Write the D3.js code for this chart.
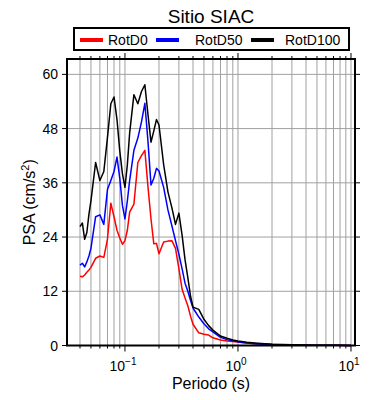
<html>
<script src='https://d3js.org/d3.v7.min.js'></script>
<style>
  body { margin: 0; }
  text { font-family: 'Liberation Sans', Arial, sans-serif; fill: black; }
</style>
<body>
<svg class="chart" width=390 height=400></svg>
<script>

// periods (s) and spectral accelerations (cm/s2)
var periods = [0.040, 0.042, 0.044, 0.046, 0.048, 0.050, 0.055, 0.060, 0.065, 0.070,
  0.075, 0.080, 0.085, 0.090, 0.095, 0.100, 0.105, 0.110, 0.120, 0.130,
  0.140, 0.150, 0.160, 0.170, 0.180, 0.190, 0.200, 0.220, 0.240, 0.260,
  0.280, 0.300, 0.320, 0.340, 0.360, 0.380, 0.400, 0.450, 0.500, 0.550,
  0.600, 0.700, 0.800, 0.900, 1.0, 1.2, 1.5, 2.0, 2.5, 3.0,
  4.0, 5.0, 6.0, 7.5, 10.0];

var rotD0 = [15.3, 15.2, 15.6, 16.2, 16.7, 17.3, 19.3, 19.8, 19.5, 23.5,
  31.5, 28.5, 25.5, 23.8, 22.4, 23.2, 25.5, 29.5, 31.3, 40.5,
  42.0, 43.2, 35.0, 28.0, 22.5, 22.6, 20.3, 22.9, 23.1, 23.2,
  21.5, 17.0, 12.5, 10.5, 8.8, 6.5, 4.7, 2.8, 2.5, 2.3,
  1.7, 1.2, 1.0, 0.9, 0.8, 0.55, 0.35, 0.2, 0.15, 0.1,
  0.07, 0.05, 0.04, 0.03, 0.02];

var rotD50 = [17.8, 18.2, 17.4, 18.5, 19.8, 21.5, 28.5, 28.9, 26.8, 34.5,
  36.5, 38.5, 41.7, 37.0, 31.0, 28.0, 32.0, 36.5, 43.2, 45.9,
  49.5, 53.6, 45.0, 35.5, 37.0, 39.2, 38.6, 35.0, 30.0, 26.5,
  23.2, 20.2, 17.0, 13.8, 12.0, 10.0, 8.3, 6.3, 4.8, 3.7,
  3.0, 1.8, 1.3, 1.0, 0.8, 0.55, 0.35, 0.22, 0.15, 0.1,
  0.07, 0.05, 0.04, 0.03, 0.02];

var rotD100 = [26.3, 27.1, 23.5, 25.0, 29.0, 32.0, 40.5, 36.5, 38.5, 46.0,
  53.5, 55.0, 50.0, 43.0, 38.0, 35.0, 40.0, 47.0, 55.5, 53.5,
  56.2, 57.7, 51.0, 45.0, 47.5, 50.0, 48.8, 40.0, 34.0, 30.5,
  26.8, 29.3, 24.5, 19.0, 15.0, 11.0, 8.5, 8.0, 5.8, 4.4,
  3.4, 2.1, 1.6, 1.2, 1.0, 0.7, 0.5, 0.3, 0.2, 0.15,
  0.1, 0.07, 0.05, 0.03, 0.02];

var seriesNames = ['RotD0', 'RotD50', 'RotD100'];
var seriesColors = ['red', 'blue', 'black'];
var yTicks = [0, 12, 24, 36, 48, 60];
var xMajor = [0.1, 1, 10];
var xMajorExp = ['\u22121', '0', '1'];

var pLeft = 67, pRight = 355, pTop = 59, pBottom = 345.5;
var x = d3.scaleLog().domain([0.0307, 10.85]).range([pLeft, pRight]);
var y = d3.scaleLinear().domain([0, 63.4]).range([pBottom, pTop]);

var svg = d3.select('.chart');

// minor log positions for grid and ticks
var xMinor = [];
[0.01, 0.1, 1].forEach(function(dec) {
  for (var k = 1; k <= 9; k++) {
    var v = +(dec * k).toPrecision(3);
    if (v >= 0.0307 && v <= 10.85) xMinor.push(v);
  }
});
xMinor.push(10);

// grid
svg.append('g').selectAll('line').data(xMinor).enter()
  .append('line')
    .attr('x1', function(d) { return x(d); })
    .attr('x2', function(d) { return x(d); })
    .attr('y1', pTop).attr('y2', pBottom)
    .attr('stroke', '#a0a0a0').attr('stroke-width', 1);

svg.append('g').selectAll('line').data(yTicks.slice(1)).enter()
  .append('line')
    .attr('x1', pLeft).attr('x2', pRight)
    .attr('y1', function(d) { return y(d); })
    .attr('y2', function(d) { return y(d); })
    .attr('stroke', '#a0a0a0').attr('stroke-width', 1);

// curves
var lineGen = function(vals) {
  return d3.line()
    .x(function(d, i) { return x(periods[i]); })
    .y(function(d) { return y(d); })(vals);
};
[rotD0, rotD50, rotD100].forEach(function(vals, i) {
  svg.append('path')
    .attr('d', lineGen(vals))
    .attr('fill', 'none')
    .attr('stroke', seriesColors[i])
    .attr('stroke-width', 1.5)
    .attr('stroke-linejoin', 'round');
});

// ticks on all four sides
var tickG = svg.append('g').attr('stroke', 'black').attr('stroke-width', 1);
xMinor.forEach(function(d) {
  var len = (xMajor.indexOf(d) >= 0) ? 6 : 3;
  tickG.append('line').attr('x1', x(d)).attr('x2', x(d)).attr('y1', pBottom).attr('y2', pBottom + len);
  tickG.append('line').attr('x1', x(d)).attr('x2', x(d)).attr('y1', pTop).attr('y2', pTop - len);
});
yTicks.forEach(function(d) {
  tickG.append('line').attr('x1', pLeft - 5).attr('x2', pLeft).attr('y1', y(d)).attr('y2', y(d));
  tickG.append('line').attr('x1', pRight).attr('x2', pRight + 5).attr('y1', y(d)).attr('y2', y(d));
});

// frame
svg.append('rect')
  .attr('x', pLeft).attr('y', pTop)
  .attr('width', pRight - pLeft).attr('height', pBottom - pTop)
  .attr('fill', 'none').attr('stroke', 'black').attr('stroke-width', 2);

// y tick labels
svg.append('g').selectAll('text').data(yTicks).enter()
  .append('text')
    .attr('x', pLeft - 9)
    .attr('y', function(d) { return y(d) + 5; })
    .attr('text-anchor', 'end')
    .attr('font-size', 14)
    .text(function(d) { return d; });

// x tick labels with exponents
xMajor.forEach(function(d, i) {
  var t = svg.append('text')
    .attr('x', x(d) - 2).attr('y', 371)
    .attr('text-anchor', 'middle')
    .attr('font-size', 14);
  t.append('tspan').text('10');
  t.append('tspan').attr('dy', -6).attr('font-size', 10).text(xMajorExp[i]);
});

// axis titles
svg.append('text')
  .attr('x', (pLeft + pRight) / 2).attr('y', 389)
  .attr('text-anchor', 'middle').attr('font-size', 16)
  .text('Periodo (s)');

var yl = svg.append('text')
  .attr('transform', 'translate(35,' + ((pTop + pBottom) / 2) + ') rotate(-90)')
  .attr('text-anchor', 'middle').attr('font-size', 16);
yl.append('tspan').text('PSA (cm/s');
yl.append('tspan').attr('dy', -6).attr('font-size', 11).text('2');
yl.append('tspan').attr('dy', 6).text(')');

// title
svg.append('text')
  .attr('x', 211).attr('y', 23)
  .attr('text-anchor', 'middle').attr('font-size', 19)
  .text('Sitio SIAC');

// legend
svg.append('rect')
  .attr('x', 74).attr('y', 28).attr('width', 275).attr('height', 22)
  .attr('fill', 'white').attr('stroke', 'black').attr('stroke-width', 2);
var legX = [80, 156, 251];
var legTextX = [108, 195, 285];
seriesNames.forEach(function(name, i) {
  svg.append('line')
    .attr('x1', legX[i]).attr('x2', legX[i] + 23)
    .attr('y1', 40).attr('y2', 40)
    .attr('stroke', seriesColors[i]).attr('stroke-width', 4);
  svg.append('text')
    .attr('x', legTextX[i]).attr('y', 45)
    .attr('font-size', 14)
    .text(name);
});

</script>
</body>
</html>
